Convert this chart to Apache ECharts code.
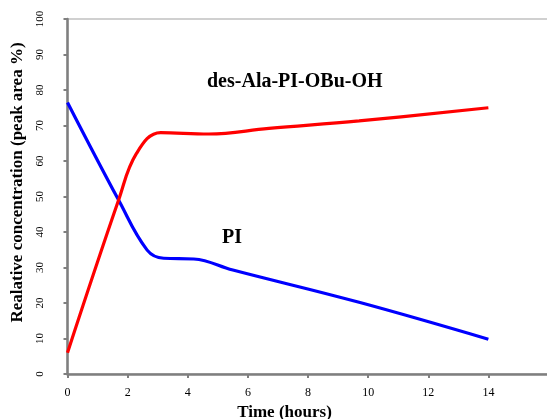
<!DOCTYPE html>
<html>
<head>
<meta charset="utf-8">
<script src="https://cdn.jsdelivr.net/npm/echarts@6/dist/echarts.min.js"></script>
<style>html,body{margin:0;padding:0;background:#fff;}#c{width:547px;height:419px;}</style>
</head>
<body>
<div id="c"></div>
<script>
var xTicks = [0, 2, 4, 6, 8, 10, 12, 14];
var piHours = [0, 1.7, 2.65, 3.2, 4.2, 5.5, 9.7, 14];
var piValues = [76.5, 49, 34.9, 32.6, 32.4, 29.3, 20.2, 9.8];
var desHours = [0, 1.7, 2.3, 3.1, 4.7, 6.7, 9.7, 14];
var desValues = [6, 49, 62.2, 68, 67.6, 69.2, 71.3, 75];
var labelDes = 'des-Ala-PI-OBu-OH';
var labelPI = 'PI';
var xTitle = 'Time (hours)';
var yTitle = 'Realative concentration (peak area %)';

function pairs(xs, ys) { return xs.map(function (x, i) { return [x, ys[i]]; }); }

var serif = '"Liberation Serif", "DejaVu Serif", serif';
var chart = echarts.init(document.getElementById('c'));
chart.setOption({
  animation: false,
  grid: { left: 67.5, top: 19, width: 481, bottom: 45, outerBoundsMode: 'none', containLabel: false,
          show: true, borderColor: '#d0d0d0', borderWidth: 2, backgroundColor: 'transparent' },
  xAxis: {
    type: 'value', min: 0, max: 16, interval: 2,
    name: xTitle, nameLocation: 'middle', nameGap: 30,
    nameTextStyle: { fontFamily: serif, fontWeight: 'bold', fontSize: 17, color: '#000', padding: [0, 47, 0, 0] },
    axisLine: { lineStyle: { color: '#7f7f7f', width: 2.5 } },
    axisTick: { show: true, length: 4, lineStyle: { color: '#7f7f7f', width: 2 } },
    axisLabel: { fontFamily: serif, fontSize: 12, color: '#000', margin: 13,
      formatter: function (v) { return xTicks.indexOf(v) >= 0 ? String(v) : ''; } },
    splitLine: { show: false }
  },
  yAxis: {
    type: 'value', min: 0, max: 100, interval: 10,
    name: yTitle, nameLocation: 'middle', nameGap: 38, nameRotate: 90,
    nameTextStyle: { fontFamily: serif, fontWeight: 'bold', fontSize: 17, color: '#000', padding: [0, 0, 0, 28] },
    axisLine: { lineStyle: { color: '#7f7f7f', width: 2.5 } },
    axisTick: { show: true, length: 4, lineStyle: { color: '#7f7f7f', width: 2 } },
    axisLabel: { fontFamily: serif, fontSize: 11, color: '#000', rotate: 90, margin: 22 },
    splitLine: { show: false }
  },
  series: [
    {
      type: 'line', name: 'PI', data: pairs(piHours, piValues), smooth: 0.4,
      showSymbol: false, symbol: 'none',
      lineStyle: { color: '#0000ff', width: 3.2 },
      markPoint: {
        symbol: 'circle', symbolSize: 0,
        label: { show: true, position: 'inside', formatter: labelPI, fontFamily: serif, fontWeight: 'bold', fontSize: 20, color: '#000' },
        data: [{ coord: [5.47, 38.3] }]
      }
    },
    {
      type: 'line', name: 'des', data: pairs(desHours, desValues), smooth: 0.4,
      showSymbol: false, symbol: 'none',
      lineStyle: { color: '#ff0000', width: 3.2 },
      markPoint: {
        symbol: 'circle', symbolSize: 0,
        label: { show: true, position: 'inside', formatter: labelDes, fontFamily: serif, fontWeight: 'bold', fontSize: 20, color: '#000' },
        data: [{ coord: [7.56, 82.3] }]
      }
    }
  ]
});
</script>
</body>
</html>
